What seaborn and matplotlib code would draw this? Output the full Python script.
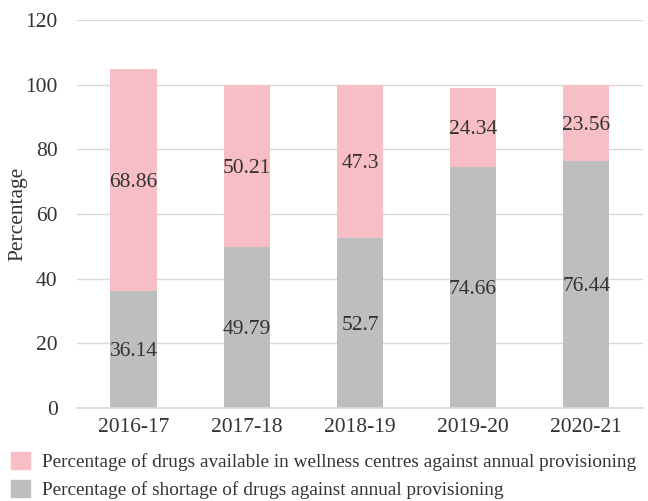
import matplotlib
matplotlib.use('Agg')
import matplotlib.pyplot as plt
import seaborn as sns
import pandas as pd
from matplotlib.patches import Patch

years = ['2016-17', '2017-18', '2018-19', '2019-20', '2020-21']
available = [68.86, 50.21, 47.3, 24.34, 23.56]
shortage = [36.14, 49.79, 52.7, 74.66, 76.44]

pink = '#F8BEC6'
grey = '#BDBEC0'
txt = '#333333'

sns.set_theme(style='whitegrid')
plt.rcParams['font.family'] = ['Liberation Serif', 'DejaVu Serif']

df = pd.DataFrame({'year': years, 'available': available, 'shortage': shortage})
df['total'] = df['available'] + df['shortage']

fig = plt.figure(figsize=(6.48, 5.01), dpi=100)
ax = fig.add_axes([0.119, 0.186, 0.873, 0.774])

sns.barplot(data=df, x='year', y='total', color=pink, width=0.41, saturation=1,
            linewidth=0, ax=ax)
sns.barplot(data=df, x='year', y='shortage', color=grey, width=0.41, saturation=1,
            linewidth=0, ax=ax)

# value labels in the middle of each segment
for i, row in df.iterrows():
    ax.text(i, row['shortage'] / 2, f"{row['shortage']:g}", ha='center',
            va='center_baseline', fontsize=15.5, color=txt)
    ax.text(i, row['shortage'] + row['available'] / 2, f"{row['available']:g}",
            ha='center', va='center_baseline', fontsize=15.5, color=txt)

ax.set_ylim(0, 120)
ax.set_yticks(range(0, 121, 20))
ax.set_xlim(-0.5, 4.5)
ax.grid(axis='y', color='#D9D9D9', linewidth=1)
ax.grid(axis='x', visible=False)
ax.set_axisbelow(True)
for s in ['top', 'right', 'left']:
    ax.spines[s].set_visible(False)
ax.spines['bottom'].set_color('#D9D9D9')
ax.tick_params(axis='both', labelsize=15.5, colors=txt, length=0)
ax.tick_params(axis='x', pad=7)
ax.tick_params(axis='y', pad=14)
ax.set_xlabel('')
ax.set_ylabel('Percentage', fontsize=15.5, color=txt)
ax.yaxis.set_label_coords(-0.088, 0.5)

handles = [Patch(color=pink, label='Percentage of drugs available in wellness centres against annual provisioning'),
           Patch(color=grey, label='Percentage of shortage of drugs against annual provisioning')]
fig.legend(handles=handles, loc='lower left', bbox_to_anchor=(0.005, -0.012), frameon=False,
           fontsize=13.9, handlelength=1.0, handleheight=1.0, handletextpad=0.6,
           labelspacing=0.45, borderaxespad=0, labelcolor=txt)

fig.savefig('out.png', dpi=100)
